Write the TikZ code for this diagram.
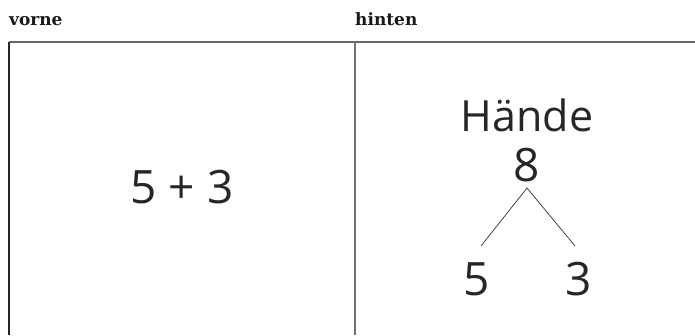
\documentclass[tikz,border=0pt]{standalone}
\usepackage{fontspec}
\newfontfamily\headfont{DejaVu Serif}
\newfontfamily\cardfont{Open Sans}
\begin{document}
\begin{tikzpicture}[x=1pt,y=-1pt,
  head/.style={anchor=base west,inner sep=0pt,font=\headfont\bfseries\fontsize{17}{20}\selectfont,text=black!90},
  big/.style={anchor=base,inner sep=0pt,font=\cardfont\fontsize{46}{50}\selectfont,text=black!85},
  tree/.style={draw=black!80,line width=0.7pt},
  frame/.style={line width=1.4pt}]
\useasboundingbox (0,0) rectangle (695,335);
\node[head] (vorne) at (9,25) {vorne};
\node[head] (hinten) at (355,25) {hinten};
\coordinate (tl) at (9,42);
\coordinate (tr) at (695,42);
\coordinate (bl) at (9,335);
\coordinate (tm) at (355,42);
\coordinate (bm) at (355,335);
\draw[frame,draw=black!60] (tl) -- (tr);
\draw[frame,draw=black!85] (tl) -- (bl);
\draw[frame,draw=black!55] (tm) -- (bm);
\node[big] (sum) at (182,203) {5 + 3};
\node[big,font=\cardfont\fontsize{43}{48}\selectfont] (haende) at (527,131) {Hände};
\node[big] (eight) at (527,181) {8};
\node[big] (five) at (477,295) {5};
\node[big] (three) at (579,295) {3};
\coordinate (apex) at (527,188);
\coordinate (le) at (481,246);
\coordinate (re) at (575,246);
\draw[tree] (le) -- (apex) -- (re);
\end{tikzpicture}
\end{document}
